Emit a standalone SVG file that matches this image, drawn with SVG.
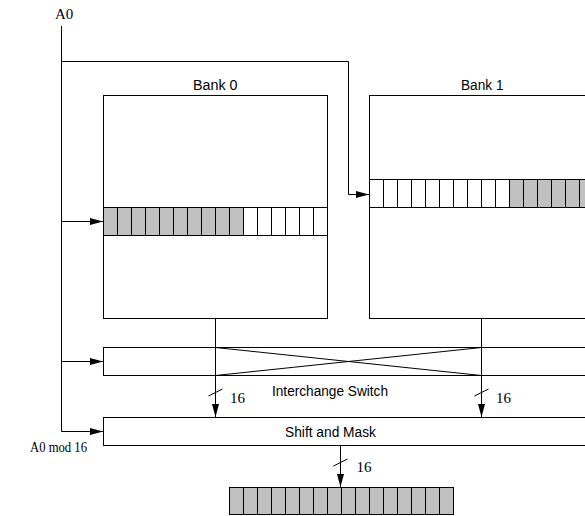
<svg xmlns="http://www.w3.org/2000/svg" width="585" height="516" viewBox="0 0 585 516">
<defs>
<marker id="ah" markerUnits="userSpaceOnUse" markerWidth="13" markerHeight="7" refX="13" refY="3.5" orient="auto"><path d="M0,0 L13,3.5 L0,7 z" fill="#000"/></marker>
</defs>
<style>
.box{fill:#fff;stroke:#000;stroke-width:1}
.ln{fill:none;stroke:#000;stroke-width:1}
.g{fill:#c0c0c0;stroke:#000;stroke-width:1}
.w{fill:#fff;stroke:#000;stroke-width:1}
.sans{font-family:"Liberation Sans",Arial,sans-serif;font-size:15.5px;fill:#000}
.serif{font-family:"Liberation Serif","Times New Roman",serif;font-size:15px;fill:#000}
</style>
<rect width="585" height="516" fill="#fff"/>

<g id="label-a0"><text class="serif" x="55" y="19">A0</text></g>
<g id="label-a0mod"><text class="serif" x="30" y="452" style="font-size:14.5px" textLength="57" lengthAdjust="spacingAndGlyphs">A0 mod 16</text></g>

<g id="bank0">
<rect class="box" x="103.5" y="95.5" width="224" height="223"/>
<text class="sans" x="193" y="90" textLength="44.5" lengthAdjust="spacingAndGlyphs">Bank 0</text>
<g id="bank0-row">
<rect class="g" x="103.5" y="207.5" width="14" height="28"/><rect class="g" x="117.5" y="207.5" width="14" height="28"/><rect class="g" x="131.5" y="207.5" width="14" height="28"/><rect class="g" x="145.5" y="207.5" width="14" height="28"/><rect class="g" x="159.5" y="207.5" width="14" height="28"/><rect class="g" x="173.5" y="207.5" width="14" height="28"/><rect class="g" x="187.5" y="207.5" width="14" height="28"/><rect class="g" x="201.5" y="207.5" width="14" height="28"/><rect class="g" x="215.5" y="207.5" width="14" height="28"/><rect class="g" x="229.5" y="207.5" width="14" height="28"/>
<rect class="w" x="243.5" y="207.5" width="14" height="28"/><rect class="w" x="257.5" y="207.5" width="14" height="28"/><rect class="w" x="271.5" y="207.5" width="14" height="28"/><rect class="w" x="285.5" y="207.5" width="14" height="28"/><rect class="w" x="299.5" y="207.5" width="14" height="28"/><rect class="w" x="313.5" y="207.5" width="14" height="28"/>
</g>
</g>

<g id="bank1">
<rect class="box" x="369.5" y="95.5" width="240" height="223"/>
<text class="sans" x="461" y="90" textLength="42.5" lengthAdjust="spacingAndGlyphs">Bank 1</text>
<g id="bank1-row">
<rect class="w" x="369.5" y="179.5" width="14" height="28"/><rect class="w" x="383.5" y="179.5" width="14" height="28"/><rect class="w" x="397.5" y="179.5" width="14" height="28"/><rect class="w" x="411.5" y="179.5" width="14" height="28"/><rect class="w" x="425.5" y="179.5" width="14" height="28"/><rect class="w" x="439.5" y="179.5" width="14" height="28"/><rect class="w" x="453.5" y="179.5" width="14" height="28"/><rect class="w" x="467.5" y="179.5" width="14" height="28"/><rect class="w" x="481.5" y="179.5" width="14" height="28"/><rect class="w" x="495.5" y="179.5" width="14" height="28"/>
<rect class="g" x="509.5" y="179.5" width="14" height="28"/><rect class="g" x="523.5" y="179.5" width="14" height="28"/><rect class="g" x="537.5" y="179.5" width="14" height="28"/><rect class="g" x="551.5" y="179.5" width="14" height="28"/><rect class="g" x="565.5" y="179.5" width="14" height="28"/><rect class="g" x="579.5" y="179.5" width="14" height="28"/>
</g>
</g>

<g id="switch">
<rect class="box" x="103.5" y="347.5" width="500" height="28"/>
<line class="ln" x1="215.5" y1="347.5" x2="481.5" y2="375.5"/>
<line class="ln" x1="215.5" y1="375.5" x2="481.5" y2="347.5"/>
<text class="sans" x="272" y="395.5" textLength="116" lengthAdjust="spacingAndGlyphs">Interchange Switch</text>
</g>

<g id="shift">
<rect class="box" x="103.5" y="417.5" width="500" height="28"/>
<text class="sans" x="285" y="436.5" textLength="91" lengthAdjust="spacingAndGlyphs">Shift and Mask</text>
</g>

<g id="output">
<rect class="g" x="229.5" y="487.5" width="14" height="27"/><rect class="g" x="243.5" y="487.5" width="14" height="27"/><rect class="g" x="257.5" y="487.5" width="14" height="27"/><rect class="g" x="271.5" y="487.5" width="14" height="27"/><rect class="g" x="285.5" y="487.5" width="14" height="27"/><rect class="g" x="299.5" y="487.5" width="14" height="27"/><rect class="g" x="313.5" y="487.5" width="14" height="27"/><rect class="g" x="327.5" y="487.5" width="14" height="27"/><rect class="g" x="341.5" y="487.5" width="14" height="27"/><rect class="g" x="355.5" y="487.5" width="14" height="27"/><rect class="g" x="369.5" y="487.5" width="14" height="27"/><rect class="g" x="383.5" y="487.5" width="14" height="27"/><rect class="g" x="397.5" y="487.5" width="14" height="27"/><rect class="g" x="411.5" y="487.5" width="14" height="27"/><rect class="g" x="425.5" y="487.5" width="14" height="27"/><rect class="g" x="439.5" y="487.5" width="14" height="27"/>
</g>

<g id="connectors">
<polyline class="ln" points="61.5,26 61.5,431.5"/>
<polyline class="ln" points="61.5,61.5 348.5,61.5 348.5,194.5 369,194.5" marker-end="url(#ah)"/>
<line class="ln" x1="61.5" y1="221.5" x2="103" y2="221.5" marker-end="url(#ah)"/>
<line class="ln" x1="61.5" y1="361.5" x2="103" y2="361.5" marker-end="url(#ah)"/>
<line class="ln" x1="61.5" y1="431.5" x2="103" y2="431.5" marker-end="url(#ah)"/>
<line class="ln" x1="215.5" y1="318.5" x2="215.5" y2="417" marker-end="url(#ah)"/>
<line class="ln" x1="481.5" y1="318.5" x2="481.5" y2="417" marker-end="url(#ah)"/>
<line class="ln" x1="340.5" y1="445.5" x2="340.5" y2="487" marker-end="url(#ah)"/>
<line class="ln" x1="208.5" y1="396" x2="222.5" y2="389"/>
<line class="ln" x1="474.5" y1="396" x2="488.5" y2="389"/>
<line class="ln" x1="333.5" y1="466" x2="347.5" y2="459"/>
<text class="serif" x="230" y="403">16</text>
<text class="serif" x="496" y="403">16</text>
<text class="serif" x="356.5" y="472">16</text>
</g>
</svg>
